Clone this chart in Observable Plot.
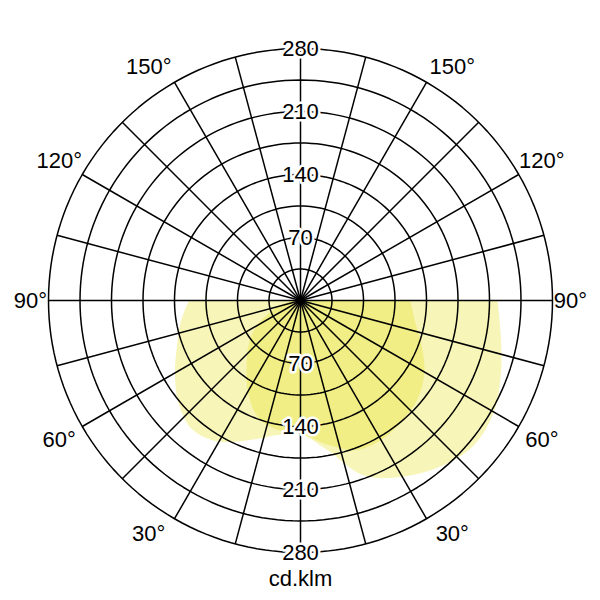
<!DOCTYPE html>
<html>
<head>
<meta charset="utf-8">
<script src="https://cdn.jsdelivr.net/npm/d3@7"></script>
<script src="https://cdn.jsdelivr.net/npm/@observablehq/plot@0.6"></script>
<style>
  html, body { margin: 0; padding: 0; background: #fff; }
  #chart { width: 600px; height: 600px; }
</style>
</head>
<body>
<div id="chart"></div>
<script>
// ---- data ----
const gammas = [0, 10, 20, 30, 40, 50, 60, 70, 80, 90];
// plane C0-C180 (right side C0, left side C180)
const c0   = [148, 168, 207, 226, 241, 251, 248, 237, 226, 219];
const c180 = [148, 146, 138, 117, 93, 75, 56, 34, 18, 6];
// plane C90-C270 (right side C90, left side C270)
const c90  = [148, 162, 177, 179, 175, 170, 159, 143, 129, 122];
const c270 = [148, 152, 165, 181, 187, 177, 161, 146, 135, 124];
const ringValues = [35, 70, 105, 140, 175, 210, 245, 280];
const ringLabels = [70, 140, 210, 280];
const angleLabels = [30, 60, 90, 120, 150];
const spokeAngles = d3.range(0, 360, 15);
const unitLabel = "cd.klm";

// ---- helpers ----
const rad = d => d * Math.PI / 180;
const rMax = 280;
const pxPerUnit = 0.9;
const half = 300 / pxPerUnit;
// gamma measured from straight down; side +1 right, -1 left
const px = (v, g, side) => side * v * Math.sin(rad(g));
const py = (v, g) => -v * Math.cos(rad(g));

function planePolygon(leftVals, rightVals) {
  const pts = [];
  for (let i = gammas.length - 1; i >= 1; i--) pts.push({x: px(leftVals[i], gammas[i], -1), y: py(leftVals[i], gammas[i])});
  pts.push({x: 0, y: py(rightVals[0], 0)});
  for (let i = 1; i < gammas.length; i++) pts.push({x: px(rightVals[i], gammas[i], 1), y: py(rightVals[i], gammas[i])});
  return pts;
}
const planeA = planePolygon(c180, c0);
const planeB = planePolygon(c270, c90);

const ringPts = ringValues.flatMap(r => d3.range(0, 361, 2).map(a => ({r, x: r * Math.sin(rad(a)), y: r * Math.cos(rad(a))})));
const spokes = spokeAngles.map(a => ({x2: rMax * Math.sin(rad(a)), y2: rMax * Math.cos(rad(a))}));

const radialTexts = ringLabels.flatMap(v => [{v, x: 0, y: v}, {v, x: 0, y: -v}]);

const angleTexts = angleLabels.flatMap(a => {
  const off = Math.abs(a - 90);
  const a2 = off === 60 ? a + 3 * Math.sign(90 - a) : a;
  const rp = 270 + 10 * Math.sin(rad(2 * off));
  const r = rp / pxPerUnit;
  return [-1, 1].map(s => ({label: a + "°", x: s * r * Math.sin(rad(a2)), y: -r * Math.cos(rad(a2))}));
});

const fillColor = "rgb(227,221,10)";
const fillOp = 0.29;

const chart = Plot.plot({
  width: 600,
  height: 600,
  margin: 0,
  x: {domain: [-half, half], axis: null},
  y: {domain: [-half, half], axis: null},
  style: {fontFamily: "'Liberation Sans', Arial, sans-serif", fontSize: "22px", background: "white", color: "black"},
  marks: [
    Plot.line(planeA, {x: "x", y: "y", fill: fillColor, fillOpacity: fillOp, stroke: "none", curve: "catmull-rom"}),
    Plot.line(planeB, {x: "x", y: "y", fill: fillColor, fillOpacity: fillOp, stroke: "none", curve: "catmull-rom"}),
    Plot.line(ringPts, {x: "x", y: "y", z: "r", stroke: "black", strokeWidth: 1.5}),
    Plot.link(spokes, {x1: 0, y1: 0, x2: "x2", y2: "y2", stroke: "black", strokeWidth: 1.5}),
    Plot.text(radialTexts, {x: "x", y: "y", text: d => String(d.v), fill: "black", stroke: "white", strokeWidth: 5, fontSize: 22}),
    Plot.text(angleTexts, {x: "x", y: "y", text: "label", fill: "black", fontSize: 22}),
    Plot.text([unitLabel], {x: 0, y: -(578 - 300) / pxPerUnit, text: d => d, fill: "black", fontSize: 22})
  ]
});
document.getElementById("chart").append(chart);
</script>
</body>
</html>
